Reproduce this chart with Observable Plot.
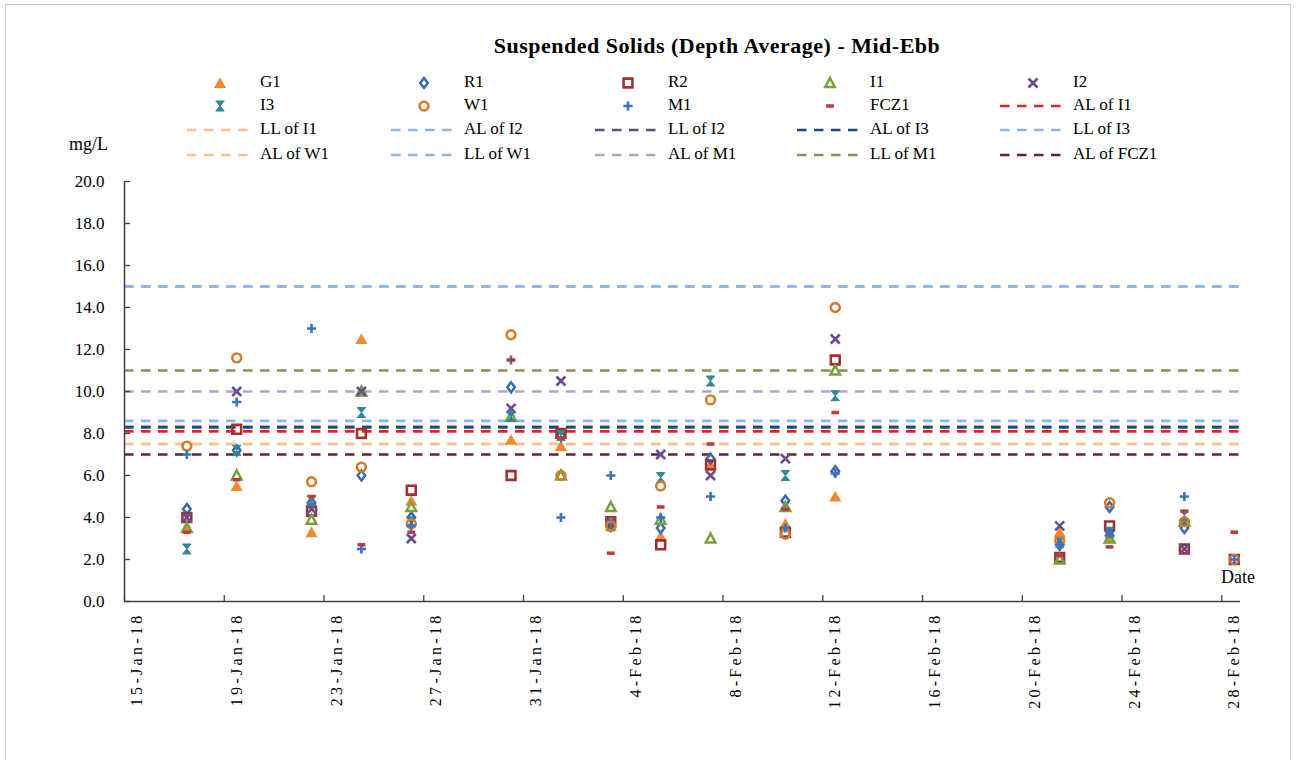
<!DOCTYPE html>
<html>
<head>
<meta charset="utf-8">
<script src="https://cdn.jsdelivr.net/npm/d3@7"></script>
<script src="https://cdn.jsdelivr.net/npm/@observablehq/plot@0.6"></script>
<style>
html, body { margin: 0; padding: 0; background: #fff; overflow: hidden; }
#wrap { position: relative; width: 1298px; height: 760px; font-family: "Liberation Serif", "Times New Roman", serif; color: #000; }
#frame { position: absolute; left: 5px; top: 4px; width: 1286px; height: 800px; border: 1px solid #c8c8c8; box-sizing: border-box; }
#title { position: absolute; left: 717px; top: 33px; transform: translateX(-50%); font-weight: bold; font-size: 22px; letter-spacing: 0.5px; white-space: nowrap; }
.leg { position: absolute; font-size: 17px; line-height: 20px; white-space: nowrap; }
.legsym { position: absolute; overflow: visible; }
#unit { position: absolute; left: 69px; top: 134px; font-size: 18px; }
#datelab { position: absolute; left: 1221px; top: 567px; font-size: 18px; }
#chart { position: absolute; left: 0; top: 165px; }
</style>
</head>
<body>
<div id="wrap">
  <div id="frame"></div>
  <div id="title">Suspended Solids (Depth Average) - Mid-Ebb</div>
  <div id="legend"></div>
  <div id="unit">mg/L</div>
  <div id="chart"></div>
  <div id="datelab">Date</div>
</div>
<script>
// ---------------- DATA ----------------
const sampleDates = ["2018-01-17","2018-01-19","2018-01-22","2018-01-24","2018-01-26","2018-01-30",
  "2018-02-01","2018-02-03","2018-02-05","2018-02-07","2018-02-10","2018-02-12",
  "2018-02-21","2018-02-23","2018-02-26","2018-02-28"];

const seriesNames = ["G1","R1","R2","I1","I2","I3","W1","M1","FCZ1"];
const G1   = [3.5, 5.5, 3.3, 12.5, 4.8, 7.7, 7.4, 3.6, 3.1, 6.5, 3.7, 5.0, 3.3, 3.0, 3.8, null];
const R1   = [4.4, 7.2, 4.7, 6.0, 4.0, 10.2, 7.9, 3.6, 3.5, 6.8, 4.8, 6.2, 2.7, 4.5, 3.5, null];
const R2   = [4.0, 8.2, 4.3, 8.0, 5.3, 6.0, 8.0, 3.8, 2.7, 6.5, 3.3, 11.5, 2.1, 3.6, 2.5, 2.0];
const I1   = [3.5, 6.0, 3.9, 10.0, 4.5, 8.8, 6.0, 4.5, 3.9, 3.0, 4.5, 11.0, 2.0, 3.0, 3.8, null];
const I2   = [4.0, 10.0, 4.4, 10.0, 3.0, 9.2, 10.5, 3.8, 7.0, 6.0, 6.8, 12.5, 3.6, 3.3, 2.5, null];
const I3   = [2.5, 7.2, 4.8, 9.0, 3.8, 8.8, 7.9, 3.6, 5.9, 10.5, 6.0, 9.8, 2.8, 3.3, 4.1, null];
const W1   = [7.4, 11.6, 5.7, 6.4, 3.7, 12.7, 6.0, 3.6, 5.5, 9.6, 3.2, 14.0, 2.9, 4.7, 3.8, 2.0];
const M1   = [7.0, 9.5, 13.0, 2.5, 3.6, 11.5, 4.0, 6.0, 4.0, 5.0, 3.5, 6.1, 2.7, 3.3, 5.0, 2.0];
const FCZ1 = [3.3, 5.8, 5.0, 2.7, 3.3, 11.5, 7.8, 2.3, 4.5, 7.5, 4.4, 9.0, 2.2, 2.6, 4.3, 3.3];
const seriesValues = [G1, R1, R2, I1, I2, I3, W1, M1, FCZ1];

const limitNames  = ["AL of I1","LL of I1","AL of I2","LL of I2","AL of I3","LL of I3","AL of W1","LL of W1","AL of M1","LL of M1","AL of FCZ1"];
const limitValues = [8.1, 7.5, 8.6, 8.3, 8.3, 15.0, 7.5, 15.0, 10.0, 11.0, 7.0];

const yTicks = [0, 2, 4, 6, 8, 10, 12, 14, 16, 18, 20];
const xTickLabels = ["15-Jan-18","19-Jan-18","23-Jan-18","27-Jan-18","31-Jan-18","4-Feb-18",
  "8-Feb-18","12-Feb-18","16-Feb-18","20-Feb-18","24-Feb-18","28-Feb-18"];

// ---------------- STYLES ----------------
const limitColors = {
  "AL of I1": "#e02424", "LL of I1": "#fac08f", "AL of I2": "#8db4e2", "LL of I2": "#604a7b",
  "AL of I3": "#1f497d", "LL of I3": "#8db4e2", "AL of W1": "#fac08f", "LL of W1": "#8db4e2",
  "AL of M1": "#b3a2c7", "LL of M1": "#948a54", "AL of FCZ1": "#632523"
};
const rad = s => Math.sqrt(s / Math.PI);
const sym = {
  triFill: { draw(c, s) { const r = rad(s); c.moveTo(0, -r); c.lineTo(r * 1.05, r * 0.85); c.lineTo(-r * 1.05, r * 0.85); c.closePath(); } },
  tri:     { draw(c, s) { const r = rad(s); c.moveTo(0, -r * 1.05); c.lineTo(r * 1.0, r * 0.85); c.lineTo(-r * 1.0, r * 0.85); c.closePath(); } },
  diamond: { draw(c, s) { const r = rad(s); c.moveTo(0, -r * 1.2); c.lineTo(r * 0.9, 0); c.lineTo(0, r * 1.2); c.lineTo(-r * 0.9, 0); c.closePath(); } },
  square:  { draw(c, s) { const r = rad(s); c.moveTo(-r, -r); c.lineTo(r, -r); c.lineTo(r, r); c.lineTo(-r, r); c.closePath(); } },
  times:   { draw(c, s) { const r = rad(s); c.moveTo(-r, -r); c.lineTo(r, r); c.moveTo(r, -r); c.lineTo(-r, r); } },
  hourglass: { draw(c, s) { const r = rad(s); c.moveTo(-r * 0.85, -r); c.lineTo(r * 0.85, -r); c.lineTo(-r * 0.85, r); c.lineTo(r * 0.85, r); c.closePath(); } },
  circle:  { draw(c, s) { const r = rad(s); c.moveTo(r, 0); c.arc(0, 0, r, 0, 2 * Math.PI); } },
  plus:    { draw(c, s) { const r = rad(s); c.moveTo(-r, 0); c.lineTo(r, 0); c.moveTo(0, -r); c.lineTo(0, r); } },
  dash:    { draw(c, s) { const r = rad(s); c.moveTo(-r, -r * 0.45); c.lineTo(r, -r * 0.45); c.lineTo(r, r * 0.45); c.lineTo(-r, r * 0.45); c.closePath(); } }
};
const seriesStyle = {
  G1:   { symbol: sym.triFill,  fill: "#f08a2f", stroke: "none",    sw: 0,   r: 5.8 },
  R1:   { symbol: sym.diamond,  fill: "none",    stroke: "#3a69ae", sw: 2.5, r: 4.2 },
  R2:   { symbol: sym.square,   fill: "none",    stroke: "#a3302f", sw: 2.6, r: 4.4 },
  I1:   { symbol: sym.tri,      fill: "none",    stroke: "#77a03e", sw: 2.5, r: 4.8 },
  I2:   { symbol: sym.times,    fill: "none",    stroke: "#6a4c90", sw: 2.6, r: 4.5 },
  I3:   { symbol: sym.hourglass, fill: "#2f8797", stroke: "#2f8797", sw: 1, r: 5.0 },
  W1:   { symbol: sym.circle,   fill: "none",    stroke: "#d77a2e", sw: 2.6, r: 4.4 },
  M1:   { symbol: sym.plus,     fill: "none",    stroke: "#3b72bf", sw: 2.6, r: 4.6 },
  FCZ1: { symbol: sym.dash,     fill: "#c0393b", stroke: "none",    sw: 0,   r: 3.9 }
};
const dashPattern = "9.5,7.5";
const lineWidth = 2.7;

// ---------------- BUILD ----------------
const HALF = 12 * 3600 * 1000;
const parseD = d3.utcParse("%Y-%m-%d");
const parseTick = d3.utcParse("%d-%b-%y");
const points = [];
seriesNames.forEach((name, si) => {
  seriesValues[si].forEach((v, i) => {
    if (v != null) points.push({ series: name, date: new Date(+parseD(sampleDates[i]) + HALF), value: v });
  });
});
const limits = limitNames.map((n, i) => ({ name: n, value: limitValues[i] }));
const tickDates = xTickLabels.map(s => parseTick(s));
const labelDates = tickDates.map(d => new Date(+d + HALF));
const xStart = tickDates[0];
const xEnd = new Date(+tickDates[tickDates.length - 1] + 18 * 3600 * 1000);

const dotMarks = seriesNames.map(name => {
  const st = seriesStyle[name];
  return Plot.dot(points.filter(p => p.series === name), {
    x: "date", y: "value", symbol: st.symbol, r: st.r,
    fill: st.fill, stroke: st.stroke, strokeWidth: st.sw
  });
});

const chart = Plot.plot({
  width: 1298, height: 595,
  marginTop: 16, marginBottom: 159, marginLeft: 124, marginRight: 58,
  style: { fontFamily: "'Liberation Serif', 'Times New Roman', serif", fontSize: "17px", color: "#000", background: "transparent", overflow: "visible" },
  x: { type: "utc", domain: [xStart, xEnd], label: null },
  y: { domain: [0, 20], label: null },
  marks: [
    Plot.ruleY(limits, { y: "value", stroke: d => limitColors[d.name], strokeWidth: lineWidth, strokeDasharray: dashPattern }),
    ...dotMarks,
    Plot.ruleX([xStart], { stroke: "#404040", strokeWidth: 1.5 }),
    Plot.ruleY([0], { stroke: "#404040", strokeWidth: 1.5 }),
    Plot.axisY({ ticks: yTicks, tickSize: 6, dx: 6, tickFormat: () => "", label: null, stroke: "#404040", strokeWidth: 1.3 }),
    Plot.axisY({ ticks: yTicks, tickSize: 0, tickPadding: 20, tickFormat: d => d.toFixed(1), label: null, fontSize: 17, fill: "#000" }),
    Plot.axisX({ ticks: tickDates, tickSize: 6, dy: -6, tickFormat: () => "", label: null, stroke: "#404040", strokeWidth: 1.3 }),
    Plot.axisX({ ticks: labelDates, tickSize: 0, tickPadding: 11, tickRotate: -90, tickFormat: d3.utcFormat("%-d-%b-%y"), label: null, fontSize: 16, fill: "#000" })
  ]
});
d3.select(chart).selectAll('g[aria-label="x-axis tick label"] text').style("letter-spacing", "3.3px");
document.getElementById("chart").appendChild(chart);

// ---------------- LEGEND ----------------
const legendItems = seriesNames.map(n => ({ kind: "dot", name: n })).concat(limitNames.map(n => ({ kind: "line", name: n })));
const rowsY = [83, 106, 130, 155];
const colX = [260, 464, 668, 870, 1073];
const legend = document.getElementById("legend");
legendItems.forEach((it, i) => {
  const col = i % 5, row = Math.floor(i / 5);
  const tx = colX[col], ty = rowsY[row];
  const svg = d3.create("svg").attr("class", "legsym").attr("width", 64).attr("height", 16)
    .style("left", (tx - 74) + "px").style("top", (ty - 8) + "px");
  if (it.kind === "line") {
    svg.append("line").attr("x1", 1).attr("x2", 63).attr("y1", 8).attr("y2", 8)
      .attr("stroke", limitColors[it.name]).attr("stroke-width", lineWidth).attr("stroke-dasharray", dashPattern);
  } else {
    const st = seriesStyle[it.name];
    const p = d3.path();
    st.symbol.draw(p, Math.PI * st.r * st.r);
    svg.append("path").attr("d", p.toString()).attr("transform", "translate(34,8)")
      .attr("fill", st.fill).attr("stroke", st.stroke).attr("stroke-width", st.sw);
  }
  legend.appendChild(svg.node());
  const t = document.createElement("div");
  t.className = "leg";
  t.textContent = it.name;
  t.style.left = tx + "px";
  t.style.top = (ty - 11) + "px";
  legend.appendChild(t);
});
</script>
</body>
</html>
